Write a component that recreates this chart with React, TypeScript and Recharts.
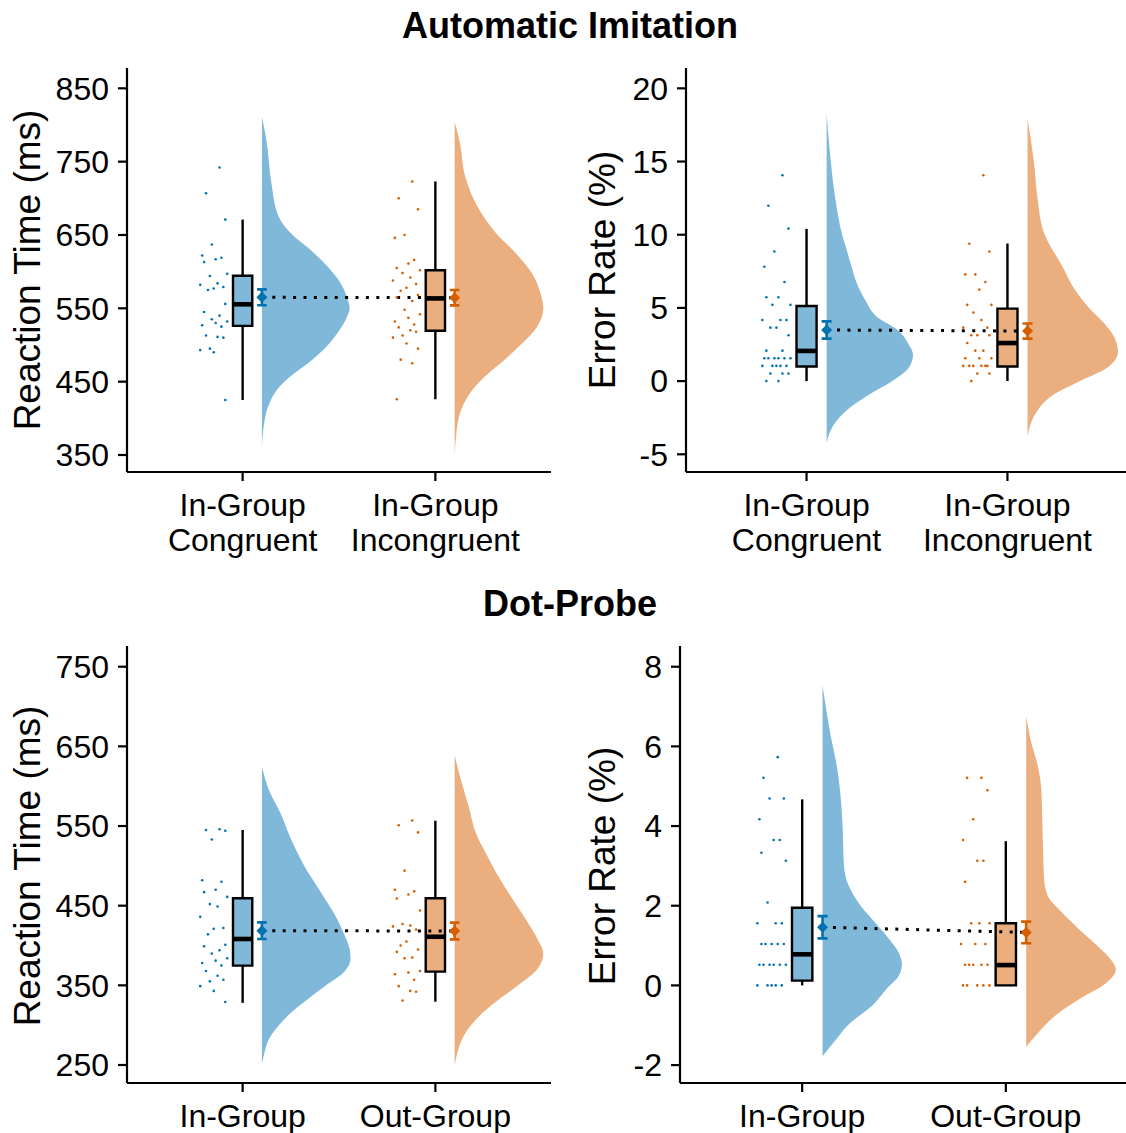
import React from "react";
import { ComposedChart, XAxis, YAxis, Area, Line, Scatter } from "recharts";

const BLUE = "#0072B2";
const ORANGE = "#D55E00";
const COLORS = [BLUE, ORANGE];
const FONT = "'Liberation Sans', Arial, Helvetica, sans-serif";

// horizontal jitter of the raw points (offset from the category)
const JITTER = [
    -0.12, -0.19, -0.09, -0.16, -0.21, -0.11, -0.14, -0.2, -0.08, -0.17, -0.13, -0.22,
    -0.1, -0.15, -0.18, -0.09, -0.2, -0.12, -0.16, -0.08, -0.14, -0.21, -0.11, -0.19,
    -0.13, -0.1, -0.17, -0.22, -0.15, -0.09, -0.18, -0.12, -0.2, -0.14, -0.11, -0.16,
];

const aiLabels = [["In-Group", "Congruent"], ["In-Group", "Incongruent"]];
const dpLabels = [["In-Group"], ["Out-Group"]];

const aiRtTicks = [350, 450, 550, 650, 750, 850];
const aiErTicks = [-5, 0, 5, 10, 15, 20];
const dpRtTicks = [250, 350, 450, 550, 650, 750];
const dpErTicks = [-2, 0, 2, 4, 6, 8];

// ---- Automatic Imitation: reaction time ----
const aiRtCongruentDots = [742, 707, 671, 637, 622, 619, 617, 613, 597, 594, 584, 582, 579, 577, 575, 556, 545, 540, 535, 532, 530, 527, 525, 513, 511, 510, 495, 493, 490, 425];
const aiRtIncongruentDots = [723, 700, 685, 650, 646, 616, 611, 605, 602, 598, 592, 588, 583, 578, 574, 568, 565, 560, 548, 542, 537, 532, 528, 524, 520, 518, 513, 510, 502, 495, 480, 475, 426];
const aiRtCongruentBox = [425, 526, 555.5, 594.5, 671];
const aiRtIncongruentBox = [426, 519.5, 563.5, 602, 723];
const aiRtMeans = [565, 564.5];
const aiRtSe = [10.8, 10.5];
const aiRtCongruentDensity = [[811, 0], [780, 0.05], [721, 0.107], [675, 0.19], [652, 0.33], [629.5, 0.55], [607, 0.74], [584, 0.89], [561, 0.97], [550, 0.99], [538.6, 0.96], [516, 0.85], [493, 0.69], [475, 0.52], [457, 0.32], [439, 0.17], [416, 0.07], [389, 0.02], [357, 0]];
const aiRtIncongruentDensity = [[804.5, 0], [775, 0.06], [729.5, 0.12], [684, 0.28], [652, 0.47], [625, 0.69], [598, 0.87], [570, 0.97], [550, 1], [525, 0.93], [502, 0.76], [479.5, 0.56], [457, 0.34], [434, 0.17], [407, 0.06], [380, 0.02], [350, 0]];

// ---- Automatic Imitation: error rate ----
const aiErCongruentDots = [14.06, 11.98, 10.42, 8.85, 7.81, 6.77, 5.73, 5.73, 5.21, 5.21, 4.17, 4.17, 4.17, 3.65, 3.65, 3.13, 2.08, 2.08, 1.56, 1.56, 1.56, 1.56, 1.56, 1.56, 1.04, 1.04, 1.04, 1.04, 1.04, 0.52, 0.52, 0.52, 0, 0];
const aiErIncongruentDots = [14.06, 9.38, 8.85, 7.29, 7.29, 6.77, 6.25, 5.21, 5.21, 4.69, 4.17, 3.65, 3.65, 3.13, 3.13, 3.13, 2.6, 2.08, 2.08, 1.56, 1.56, 1.56, 1.04, 1.04, 1.04, 1.04, 1.04, 1.04, 0.52, 0.52, 0];
const aiErCongruentBox = [0, 1.0, 2.06, 5.13, 10.4];
const aiErIncongruentBox = [0, 1.0, 2.6, 4.95, 9.4];
const aiErMeans = [3.49, 3.42];
const aiErSe = [0.59, 0.52];
const aiErCongruentDensity = [[18.3, 0], [15.8, 0.035], [12.5, 0.1], [10, 0.18], [9, 0.23], [8, 0.28], [6.67, 0.35], [5.5, 0.45], [4.4, 0.58], [3.5, 0.82], [2.5, 0.95], [1.8, 1], [1, 0.96], [0, 0.76], [-1, 0.47], [-2, 0.23], [-3, 0.08], [-4.2, 0]];
const aiErIncongruentDensity = [[17.9, 0], [15, 0.07], [12.5, 0.11], [10, 0.19], [8, 0.37], [6, 0.55], [5, 0.68], [4, 0.84], [3, 0.96], [2, 1], [1, 0.9], [0, 0.58], [-1, 0.27], [-2, 0.11], [-3, 0.03], [-3.8, 0]];

// ---- Dot-Probe: reaction time ----
const dpRtInDots = [546, 545, 544, 533, 482, 480, 470, 467, 461, 452, 449, 436, 422, 421, 414, 401, 399, 394, 390, 384, 381, 378, 375, 368, 362, 357, 355, 349, 343, 329];
const dpRtOutDots = [557, 551, 542, 494, 470, 468, 464, 459, 444, 427, 425, 424, 420, 405, 400, 395, 392, 385, 384, 368, 366, 364, 357, 349, 343, 342, 331];
const dpRtInBox = [328, 374.7, 408.2, 459.3, 545];
const dpRtOutBox = [329.5, 367.2, 411, 459.3, 556.7];
const dpRtMeans = [418.6, 418.2];
const dpRtSe = [10.5, 10.5];
const dpRtInDensity = [[624.5, 0], [595, 0.08], [566, 0.21], [533, 0.33], [499.5, 0.48], [466, 0.67], [437, 0.83], [416, 0.92], [395, 0.99], [383, 1], [366, 0.92], [349, 0.71], [333, 0.52], [316, 0.33], [299.5, 0.19], [282.7, 0.08], [266, 0.03], [251, 0]];
const dpRtOutDensity = [[639, 0], [608, 0.07], [574, 0.16], [541, 0.24], [512, 0.37], [491, 0.47], [457, 0.66], [428, 0.83], [407, 0.94], [390, 1], [370, 0.93], [349, 0.7], [328, 0.45], [307, 0.24], [286, 0.1], [265, 0.03], [249, 0]];

// ---- Dot-Probe: error rate ----
const dpErInDots = [5.73, 5.21, 4.69, 4.69, 4.17, 3.65, 3.65, 3.33, 3.13, 2.08, 1.56, 1.56, 1.56, 1.04, 1.04, 1.04, 1.04, 1.04, 0.52, 0.52, 0.52, 0.52, 0.52, 0.52, 0, 0, 0, 0, 0];
const dpErOutDots = [5.21, 5.21, 4.9, 4.17, 3.65, 3.13, 3.13, 2.6, 1.56, 1.56, 1.56, 1.04, 1.04, 1.04, 0.52, 0.52, 0.52, 0.52, 0.52, 0, 0, 0, 0, 0];
const dpErInBox = [0, 0.12, 0.78, 1.95, 4.67];
const dpErOutBox = [0, 0, 0.51, 1.56, 3.62];
const dpErMeans = [1.46, 1.33];
const dpErSe = [0.28, 0.27];
const dpErInDensity = [[7.54, 0], [7.0, 0.04], [6.3, 0.1], [5.5, 0.18], [4.9, 0.22], [4.1, 0.25], [3.0, 0.27], [2.5, 0.33], [2.0, 0.48], [1.58, 0.66], [1.16, 0.84], [0.82, 0.96], [0.53, 1], [0.24, 0.96], [-0.1, 0.8], [-0.52, 0.62], [-0.94, 0.35], [-1.36, 0.17], [-1.78, 0]];
const dpErOutDensity = [[6.75, 0], [6.16, 0.05], [5.5, 0.13], [4.9, 0.17], [4.1, 0.18], [3.26, 0.19], [2.67, 0.2], [2.25, 0.24], [1.83, 0.4], [1.41, 0.59], [1.0, 0.79], [0.66, 0.94], [0.4, 1], [0.07, 0.9], [-0.35, 0.59], [-0.77, 0.32], [-1.2, 0.13], [-1.54, 0]];

type Group = {
    dots: number[];
    box: number[];
    mean: number;
    se: number;
    density: number[][];
    peak: number;
};

const mkGroups = (dots: number[][], boxes: number[][], means: number[], se: number[], dens: number[][][], peaks: number[]): Group[] =>
    [0, 1].map((i) => ({ dots: dots[i], box: boxes[i], mean: means[i], se: se[i], density: dens[i], peak: peaks[i] }));

const aiRtGroups = mkGroups([aiRtCongruentDots, aiRtIncongruentDots], [aiRtCongruentBox, aiRtIncongruentBox], aiRtMeans, aiRtSe, [aiRtCongruentDensity, aiRtIncongruentDensity], [0.46, 0.46]);
const aiErGroups = mkGroups([aiErCongruentDots, aiErIncongruentDots], [aiErCongruentBox, aiErIncongruentBox], aiErMeans, aiErSe, [aiErCongruentDensity, aiErIncongruentDensity], [0.43, 0.45]);
const dpRtGroups = mkGroups([dpRtInDots, dpRtOutDots], [dpRtInBox, dpRtOutBox], dpRtMeans, dpRtSe, [dpRtInDensity, dpRtOutDensity], [0.46, 0.46]);
const dpErGroups = mkGroups([dpErInDots, dpErOutDots], [dpErInBox, dpErOutBox], dpErMeans, dpErSe, [dpErInDensity, dpErOutDensity], [0.39, 0.44]);

const BOX_HALF = 0.05;
const NUDGE = 0.1;
const CAP = 0.025;

function CategoryTick(props: any) {
    const { x, y, payload, labels } = props;
    const lines: string[] = labels[Math.round(payload.value) - 1] ?? [];
    return (
        <text x={x} y={y} textAnchor="middle" fontSize={32} fontFamily={FONT} fill="#000">
            {lines.map((l, i) => (
                <tspan key={i} x={x} y={y + 35 + i * 35}>
                    {l}
                </tspan>
            ))}
        </text>
    );
}

const seg = (key: string, pts: number[][], extra: any = {}) => (
    <Line
        key={key}
        data={pts.map(([x, v]) => ({ x, v }))}
        dataKey="x"
        type="linear"
        stroke="#000"
        strokeWidth={2.4}
        dot={false}
        activeDot={false}
        isAnimationActive={false}
        {...extra}
    />
);

type PanelProps = {
    groups: Group[];
    domain: number[];
    ticks: number[];
    labels: string[][];
    width: number;
    height: number;
    top: number;
    right: number;
    yWidth: number;
    xHeight: number;
};

function Raincloud({ groups, domain, ticks, labels, width, height, top, right, yWidth, xHeight }: PanelProps) {
    const areas: any[] = [];
    const lines: any[] = [];
    const points: any[] = [];

    groups.forEach((g, i) => {
        const c = i + 1;
        const color = COLORS[i];
        const [lo, q1, med, q3, hi] = g.box;
        const m = c + NUDGE;

        areas.push(
            <Area
                key={`violin${i}`}
                data={g.density.map(([v, d]) => ({ v, w: [m, m + d * g.peak] }))}
                dataKey="w"
                type="monotone"
                stroke="none"
                fill={color}
                fillOpacity={0.5}
                dot={false}
                activeDot={false}
                isAnimationActive={false}
            />
        );
        areas.push(
            <Area
                key={`boxfill${i}`}
                data={[
                    { v: q1, w: [c - BOX_HALF, c + BOX_HALF] },
                    { v: q3, w: [c - BOX_HALF, c + BOX_HALF] },
                ]}
                dataKey="w"
                type="linear"
                stroke="none"
                fill={color}
                fillOpacity={0.5}
                dot={false}
                activeDot={false}
                isAnimationActive={false}
            />
        );

        lines.push(seg(`wlo${i}`, [[c, lo], [c, q1]]));
        lines.push(seg(`whi${i}`, [[c, q3], [c, hi]]));
        lines.push(
            seg(`box${i}`, [
                [c - BOX_HALF, q1],
                [c + BOX_HALF, q1],
                [c + BOX_HALF, q3],
                [c - BOX_HALF, q3],
                [c - BOX_HALF, q1],
            ], { strokeLinejoin: "miter", strokeLinecap: "square" })
        );
        lines.push(seg(`med${i}`, [[c - BOX_HALF, med], [c + BOX_HALF, med]], { strokeWidth: 4.6 }));
        lines.push(
            seg(`err${i}`, [
                [m - CAP, g.mean + g.se],
                [m + CAP, g.mean + g.se],
                [m, g.mean + g.se],
                [m, g.mean - g.se],
                [m - CAP, g.mean - g.se],
                [m + CAP, g.mean - g.se],
            ], { stroke: color, strokeWidth: 2.6 })
        );

        points.push(
            <Scatter
                key={`dots${i}`}
                data={g.dots.map((v, k) => ({ x: c + JITTER[k % JITTER.length], v }))}
                fill={color}
                isAnimationActive={false}
                shape={(p: any) => <circle cx={p.cx} cy={p.cy} r={1.3} fill={color} />}
            />
        );
        points.push(
            <Scatter
                key={`mean${i}`}
                data={[{ x: m, v: g.mean }]}
                fill={color}
                isAnimationActive={false}
                shape={(p: any) => (
                    <polygon
                        points={`${p.cx},${p.cy - 5.5} ${p.cx + 5.5},${p.cy} ${p.cx},${p.cy + 5.5} ${p.cx - 5.5},${p.cy}`}
                        fill={color}
                    />
                )}
            />
        );
    });

    lines.push(
        seg("meanline", [
            [1 + NUDGE, groups[0].mean],
            [2 + NUDGE, groups[1].mean],
        ], { strokeWidth: 3, strokeDasharray: "3 7.4" })
    );

    return (
        <ComposedChart
            layout="vertical"
            width={width}
            height={height}
            margin={{ top, right, bottom: 0, left: 0 }}
        >
            <XAxis
                type="number"
                dataKey="x"
                domain={[0.4, 2.6]}
                allowDataOverflow
                ticks={[1, 2]}
                interval={0}
                height={xHeight}
                tickSize={9}
                tickMargin={0}
                axisLine={{ stroke: "#000", strokeWidth: 2.2 }}
                tickLine={{ stroke: "#000", strokeWidth: 2.2 }}
                tick={(p: any) => <CategoryTick {...p} labels={labels} />}
            />
            <YAxis
                type="number"
                dataKey="v"
                domain={domain}
                allowDataOverflow
                reversed
                ticks={ticks}
                interval={0}
                width={yWidth}
                tickSize={9}
                tickMargin={9}
                axisLine={{ stroke: "#000", strokeWidth: 2.2 }}
                tickLine={{ stroke: "#000", strokeWidth: 2.2 }}
                tick={{ fill: "#000", fontSize: 32, fontFamily: FONT }}
            />
            {areas}
            {lines}
            {points}
        </ComposedChart>
    );
}

const titleStyle = { fontFamily: FONT, fill: "#000" };

export default function App() {
    return (
        <div
            style={{
                position: "absolute",
                left: 0,
                top: 0,
                width: 1126,
                height: 1133,
                overflow: "hidden",
                background: "#fff",
                fontFamily: FONT,
            }}
        >
            <div style={{ position: "absolute", left: 0, top: 0 }}>
                <Raincloud groups={aiRtGroups} domain={[326.8, 877.7]} ticks={aiRtTicks} labels={aiLabels}
                    width={560} height={560} top={68} right={9} yWidth={127} xHeight={88} />
            </div>
            <div style={{ position: "absolute", left: 563, top: 0 }}>
                <Raincloud groups={aiErGroups} domain={[-6.21, 21.39]} ticks={aiErTicks} labels={aiLabels}
                    width={570} height={560} top={68} right={5} yWidth={123} xHeight={88} />
            </div>
            <div style={{ position: "absolute", left: 0, top: 560 }}>
                <Raincloud groups={dpRtGroups} domain={[227.4, 776]} ticks={dpRtTicks} labels={dpLabels}
                    width={560} height={573} top={86} right={9} yWidth={127} xHeight={50} />
            </div>
            <div style={{ position: "absolute", left: 563, top: 560 }}>
                <Raincloud groups={dpErGroups} domain={[-2.45, 8.52]} ticks={dpErTicks} labels={dpLabels}
                    width={570} height={573} top={86} right={5} yWidth={117} xHeight={50} />
            </div>
            <svg width={1126} height={1133} style={{ position: "absolute", left: 0, top: 0, pointerEvents: "none" }}>
                <text x={570} y={38} textAnchor="middle" fontSize={36} fontWeight="bold" style={titleStyle}>
                    Automatic Imitation
                </text>
                <text x={570} y={616} textAnchor="middle" fontSize={36} fontWeight="bold" style={titleStyle}>
                    Dot-Probe
                </text>
                <text transform="translate(40,270) rotate(-90)" textAnchor="middle" fontSize={37} style={titleStyle}>
                    Reaction Time (ms)
                </text>
                <text transform="translate(615,270) rotate(-90)" textAnchor="middle" fontSize={37} style={titleStyle}>
                    Error Rate (%)
                </text>
                <text transform="translate(40,866) rotate(-90)" textAnchor="middle" fontSize={37} style={titleStyle}>
                    Reaction Time (ms)
                </text>
                <text transform="translate(615,866) rotate(-90)" textAnchor="middle" fontSize={37} style={titleStyle}>
                    Error Rate (%)
                </text>
            </svg>
        </div>
    );
}
